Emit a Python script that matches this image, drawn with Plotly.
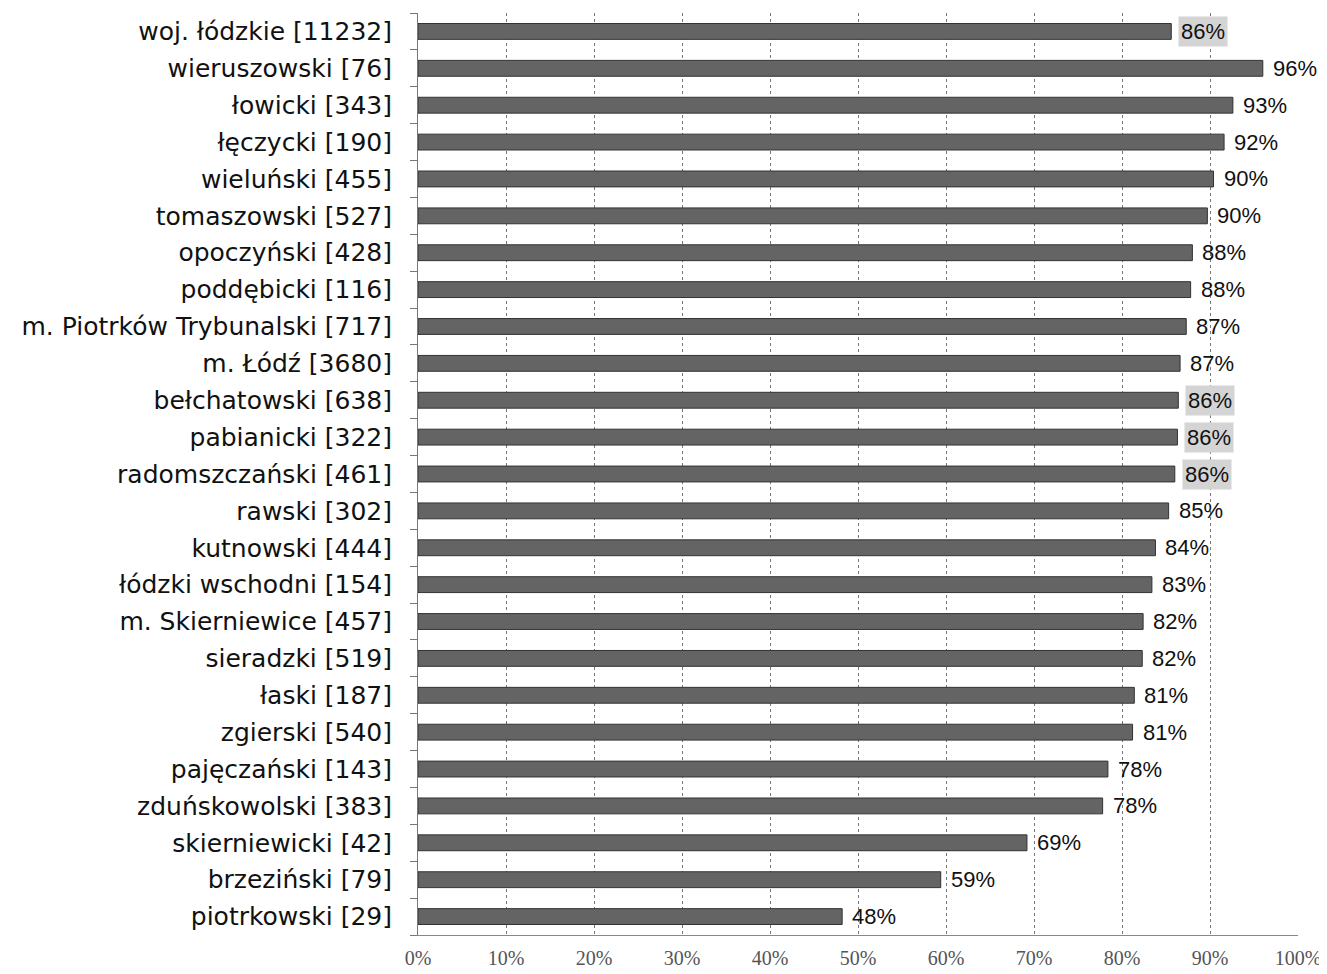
import plotly.graph_objects as go

categories = [
    "woj. łódzkie [11232]", "wieruszowski [76]", "łowicki [343]", "łęczycki [190]",
    "wieluński [455]", "tomaszowski [527]", "opoczyński [428]", "poddębicki [116]",
    "m. Piotrków Trybunalski [717]", "m. Łódź [3680]", "bełchatowski [638]",
    "pabianicki [322]", "radomszczański [461]", "rawski [302]", "kutnowski [444]",
    "łódzki wschodni [154]", "m. Skierniewice [457]", "sieradzki [519]", "łaski [187]",
    "zgierski [540]", "pajęczański [143]", "zduńskowolski [383]", "skierniewicki [42]",
    "brzeziński [79]", "piotrkowski [29]",
]
values = [85.6, 96.0, 92.6, 91.6, 90.4, 89.7, 88.0, 87.8, 87.3, 86.6, 86.4, 86.3,
          86.0, 85.3, 83.8, 83.4, 82.4, 82.3, 81.4, 81.2, 78.4, 77.8, 69.2, 59.4, 48.2]
highlighted = ["woj. łódzkie [11232]", "bełchatowski [638]", "pabianicki [322]",
               "radomszczański [461]"]
x_ticks = [0, 10, 20, 30, 40, 50, 60, 70, 80, 90, 100]

ypos = list(range(len(categories)))

fig = go.Figure()
fig.add_trace(go.Bar(
    x=values, y=ypos, orientation="h",
    marker=dict(color="#646464", line=dict(color="#333333", width=1)),
    width=0.43, hoverinfo="skip",
))

for i, (c, v) in enumerate(zip(categories, values)):
    fig.add_annotation(
        x=v, y=i, xref="x", yref="y", text=f"{round(v)}%",
        showarrow=False, xanchor="left", xshift=7,
        font=dict(family="Liberation Sans", size=22, color="#111"),
        bgcolor="#d4d4d4" if c in highlighted else "rgba(0,0,0,0)",
        borderpad=2,
    )

# page body has an 8px default margin; size the figure to fit inside the window
fig.update_layout(
    width=1319, height=966,
    margin=dict(l=410, r=29, t=5, b=39, autoexpand=False),
    paper_bgcolor="white", plot_bgcolor="white",
    showlegend=False,
    xaxis=dict(
        range=[0, 100], tickvals=x_ticks, ticktext=[f"{t}%" for t in x_ticks],
        showgrid=True, gridcolor="#777", griddash="dot", gridwidth=1,
        zeroline=False, showline=True, linecolor="#888", mirror=False,
        ticks="", ticklabelstandoff=5, automargin=False,
        tickfont=dict(family="Liberation Serif", size=20, color="#555"),
    ),
    yaxis=dict(
        range=[len(categories) - 0.5, -0.5],
        tickvals=ypos, ticktext=categories,
        showgrid=False, zeroline=False, showline=True, linecolor="#777",
        ticks="", ticklabelstandoff=20, automargin=False,
        tickfont=dict(family="DejaVu Sans", size=25, color="#111"),
        minor=dict(tick0=0.5, dtick=1, ticks="outside", ticklen=7,
                   tickcolor="#777", tickwidth=1, showgrid=False),
    ),
)

fig.write_html("out.html")
